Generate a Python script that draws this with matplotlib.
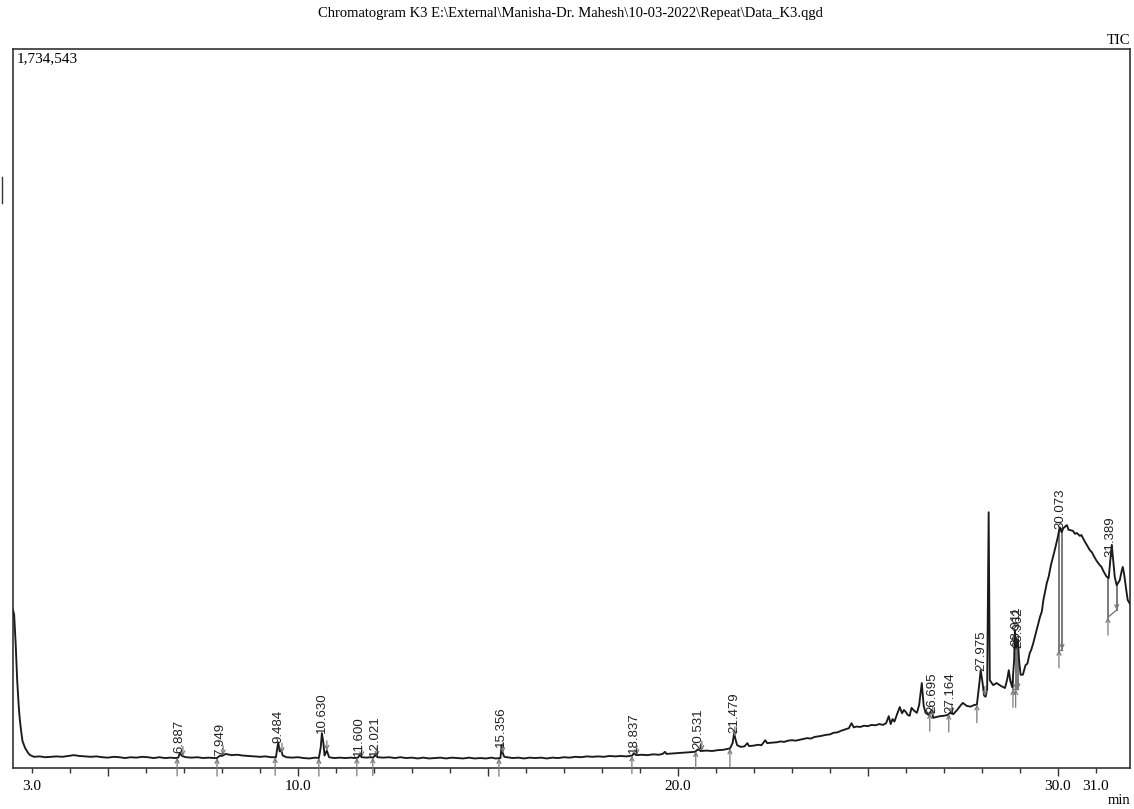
import numpy as np
import matplotlib
matplotlib.use("Agg")
import matplotlib.pyplot as plt
from matplotlib import transforms
from matplotlib.lines import Line2D

# ---------------- data ----------------
time_min = [
    2.50, 2.53, 2.57, 2.61, 2.65, 2.68, 2.72, 2.75, 2.82, 2.90, 2.95,
    3.05, 3.2, 3.35, 3.5, 3.65, 3.8, 3.95, 4.1, 4.25, 4.4, 4.55, 4.7, 4.85, 5.0,
    5.15, 5.3, 5.45, 5.6, 5.75, 5.9, 6.05, 6.2, 6.35, 6.5, 6.65, 6.78, 6.85, 6.89, 6.95,
    7.05, 7.2, 7.35, 7.5, 7.65, 7.78, 7.87, 7.95, 8.0, 8.1, 8.25, 8.4, 8.55, 8.7, 8.85,
    9.0, 9.15, 9.3, 9.42, 9.48, 9.52, 9.55, 9.6, 9.7, 9.85, 10.0, 10.15, 10.3, 10.45, 10.55,
    10.60, 10.63, 10.67, 10.70, 10.76, 10.82, 10.95, 11.1, 11.25, 11.4, 11.5, 11.58, 11.62, 11.68, 11.8,
    11.9, 11.98, 12.03, 12.1, 12.25, 12.4, 12.55, 12.7, 12.85, 13.0, 13.15, 13.3, 13.45, 13.6, 13.75,
    13.9, 14.05, 14.2, 14.35, 14.5, 14.65, 14.8, 14.95, 15.1, 15.2, 15.33, 15.36, 15.39, 15.43, 15.5,
    15.65, 15.8, 15.95, 16.1, 16.25, 16.4, 16.55, 16.7, 16.85, 17.0, 17.15, 17.3, 17.45, 17.6, 17.75,
    17.9, 18.05, 18.2, 18.35, 18.5, 18.65, 18.8, 18.84, 18.9, 19.05, 19.2, 19.35, 19.5, 19.6, 19.66,
    19.7, 19.85, 20.0, 20.15, 20.3, 20.45, 20.53, 20.6, 20.75, 20.9, 21.05, 21.2, 21.3, 21.37, 21.44,
    21.48, 21.52, 21.56, 21.65, 21.75, 21.83, 21.87, 22.0, 22.1, 22.2, 22.3, 22.35, 22.45, 22.6, 22.7,
    22.8, 22.9, 23.0, 23.1, 23.2, 23.3, 23.4, 23.5, 23.6, 23.75, 23.9, 24.0, 24.1, 24.2, 24.3,
    24.4, 24.5, 24.57, 24.63, 24.7, 24.8, 24.9, 25.0, 25.1, 25.2, 25.3, 25.4, 25.48, 25.55, 25.6,
    25.65, 25.7, 25.77, 25.84, 25.9, 25.95, 26.0, 26.05, 26.1, 26.15, 26.22, 26.29, 26.35, 26.42, 26.47,
    26.52, 26.6, 26.68, 26.72, 26.8, 26.9, 27.0, 27.1, 27.16, 27.25, 27.35, 27.45, 27.5, 27.6, 27.7,
    27.8, 27.87, 27.93, 27.97, 28.02, 28.06, 28.1, 28.14, 28.18, 28.21, 28.26, 28.3, 28.39, 28.5, 28.61,
    28.67, 28.71, 28.75, 28.8, 28.85, 28.87, 28.9, 28.93, 28.95, 28.98, 29.02, 29.08, 29.15, 29.2, 29.26,
    29.3, 29.35, 29.45, 29.53, 29.58, 29.62, 29.71, 29.76, 29.82, 29.92, 30.0, 30.05, 30.1, 30.15, 30.24,
    30.28, 30.32, 30.4, 30.45, 30.5, 30.58, 30.62, 30.66, 30.7, 30.75, 30.84, 30.9, 30.95, 31.02, 31.1,
    31.15, 31.2, 31.28, 31.34, 31.38, 31.42, 31.46, 31.5, 31.55, 31.63, 31.68, 31.71, 31.75, 31.8, 31.84,
    31.9,
]
intensity_k = [
    381, 370, 300, 212, 150, 116, 85, 65, 48, 36, 31,
    27, 28, 26, 27, 28, 27, 29, 31, 29, 28, 27, 28, 26, 25,
    27, 26, 24, 26, 25, 27, 26, 24, 26, 24, 25, 24, 25, 36, 29,
    26, 25, 26, 24, 25, 24, 24, 30, 29, 34, 31, 32, 30, 29, 28,
    27, 28, 26, 26, 62, 40, 45, 30, 26, 25, 26, 24, 23, 25, 24,
    50, 84, 60, 30, 42, 26, 24, 25, 24, 25, 24, 25, 31, 26, 25,
    26, 25, 31, 26, 25, 26, 24, 26, 24, 25, 23, 25, 23, 24, 25,
    23, 25, 24, 23, 25, 23, 24, 23, 25, 23, 24, 55, 36, 27, 26,
    24, 25, 23, 25, 24, 25, 23, 25, 24, 26, 25, 27, 26, 28, 27,
    28, 27, 29, 28, 29, 28, 30, 36, 31, 32, 31, 33, 32, 34, 39,
    34, 35, 36, 37, 38, 39, 45, 41, 42, 41, 43, 44, 46, 47, 60,
    84, 68, 55, 51, 52, 60, 53, 54, 56, 55, 67, 60, 61, 62, 64,
    63, 66, 67, 66, 68, 70, 72, 71, 75, 77, 80, 81, 85, 86, 90,
    93, 96, 108, 98, 100, 99, 102, 101, 104, 103, 106, 104, 108, 125, 106,
    118, 112, 130, 147, 132, 140, 135, 128, 126, 145, 138, 133, 152, 205, 150,
    133, 128, 140, 121, 123, 125, 126, 128, 133, 130, 140, 152, 157, 150, 148,
    152, 153, 200, 236, 205, 175, 172, 190, 617, 212, 205, 200, 205, 198, 193,
    215, 236, 210, 195, 260, 333, 290, 300, 309, 260, 225, 225, 248, 252, 277,
    285, 300, 335, 364, 378, 405, 446, 462, 490, 526, 557, 581, 569, 579, 586,
    575, 574, 572, 565, 567, 560, 562, 555, 548, 540, 526, 520, 511, 500, 490,
    485, 475, 462, 458, 500, 538, 500, 460, 441, 453, 475, 485, 465, 430, 405,
    396,
]

peak_labels = ["6.887", "7.949", "9.484", "10.630", "11.600", "12.021", "15.356", "18.837",
               "20.531", "21.479", "26.695", "27.164", "27.975", "28.911", "28.962", "30.073", "31.389"]
peak_times = [6.887, 7.949, 9.484, 10.630, 11.600, 12.021, 15.356, 18.837,
              20.531, 21.479, 26.695, 27.164, 27.975, 28.911, 28.962, 30.073, 31.389]
peak_start = [6.82, 7.87, 9.40, 10.55, 11.55, 11.97, 15.29, 18.79,
              20.47, 21.37, 26.63, 27.13, 27.87, 28.82, 28.89, 30.03, 31.32]
peak_end = [6.97, 8.03, 9.58, 10.76, 11.68, 12.08, 15.39, 18.92,
            20.63, 21.50, 26.71, 27.21, 28.08, 28.89, 28.95, 30.11, 31.55]
# baseline levels (k counts) at start / end; None = on the trace
base_start_k = [None] * 13 + [190, 190, 285, 364]
base_end_k = [None] * 13 + [190, 190, 285, 381]

y_max = 1734543
x_tick_labels = ["3.0", "10.0", "20.0", "30.0", "31.0"]
x_tick_pos = [3.0, 10.0, 20.0, 30.0, 31.0]
title = r"Chromatogram K3 E:\External\Manisha-Dr. Mahesh\10-03-2022\Repeat\Data_K3.qgd"

# ---------------- drawing ----------------
t = np.array(time_min)
inten = np.array(intensity_k) * 1000.0

W, H = 1134, 809
fig = plt.figure(figsize=(W / 100, H / 100), dpi=100)
ax = fig.add_axes([13 / W, 1 - 768 / H, (1130 - 13) / W, (768 - 49) / H])

serif = ["Liberation Serif", "DejaVu Serif"]
narrow = ["Liberation Sans Narrow", "Liberation Sans", "DejaVu Sans"]
grey = "#7a7a7a"

ax.plot(t, inten, color="#1a1a1a", lw=1.35, zorder=3)
ax.set_xlim(2.5, 31.9)
ax.set_ylim(0, y_max)

# peak markers
for lab, pt, ts, te, bs, be in zip(peak_labels, peak_times, peak_start, peak_end,
                                    base_start_k, base_end_k):
    ys_tr = np.interp(ts, t, inten)
    ye_tr = np.interp(te, t, inten)
    ys = ys_tr if bs is None else bs * 1000.0
    ye = ye_tr if be is None else be * 1000.0
    if bs is not None:
        ax.plot([ts, ts], [ys_tr, ys], color=grey, lw=1.4, zorder=2)
        ax.plot([ts, te], [ys, ye], color=grey, lw=1.0, zorder=2)
    if be is not None:
        ax.plot([te, te], [ye_tr, ye], color=grey, lw=1.4, zorder=2)
    ax.annotate("", xy=(ts, ys), xytext=(0, -13), textcoords="offset points",
                arrowprops=dict(arrowstyle="->", color=grey, lw=0.9,
                                shrinkA=0, shrinkB=0, mutation_scale=7), zorder=4)
    ax.annotate("", xy=(te, ye), xytext=(0, 7), textcoords="offset points",
                arrowprops=dict(arrowstyle="->", color=grey, lw=0.9,
                                shrinkA=0, shrinkB=0, mutation_scale=7), zorder=4)
    apex = np.interp(pt, t, inten)
    ax.text(pt, apex, lab, rotation=90, ha="center", va="bottom",
            fontsize=9.5, family=narrow, color="#222222", zorder=5)

# frame
for s in ax.spines.values():
    s.set_color("#333333")
    s.set_linewidth(1.2)

ax.set_yticks([])
ax.set_xticks(np.arange(5, 31, 5))
ax.set_xticks(np.arange(3, 32, 1), minor=True)
ax.tick_params(axis="x", which="major", length=5.5, width=1.0, direction="out",
               labelbottom=False, color="#333333")
ax.tick_params(axis="x", which="minor", length=3.5, width=1.0, direction="out",
               color="#333333")

tr = transforms.blended_transform_factory(ax.transData, fig.transFigure)
for p, lab in zip(x_tick_pos, x_tick_labels):
    ax.text(p, 1 - 786 / H, lab, transform=tr, ha="center", va="center",
            fontsize=11, family=serif)

fig.text(570 / W, 1 - 14 / H, title, ha="center", va="center", fontsize=10.5, family=serif)
ax.text(0.003, 0.996, f"{y_max:,}", transform=ax.transAxes, ha="left", va="top",
        fontsize=11, family=serif)
fig.text(1130 / W, 1 - 40 / H, "TIC", ha="right", va="center", fontsize=10.5, family=serif)
fig.text(1130 / W, 1 - 800 / H, "min", ha="right", va="center", fontsize=10.5, family=serif)

fig.add_artist(Line2D([2 / W, 2 / W], [1 - 177 / H, 1 - 203 / H], color="#333333", lw=1.0))

fig.savefig("out.png", dpi=100)
